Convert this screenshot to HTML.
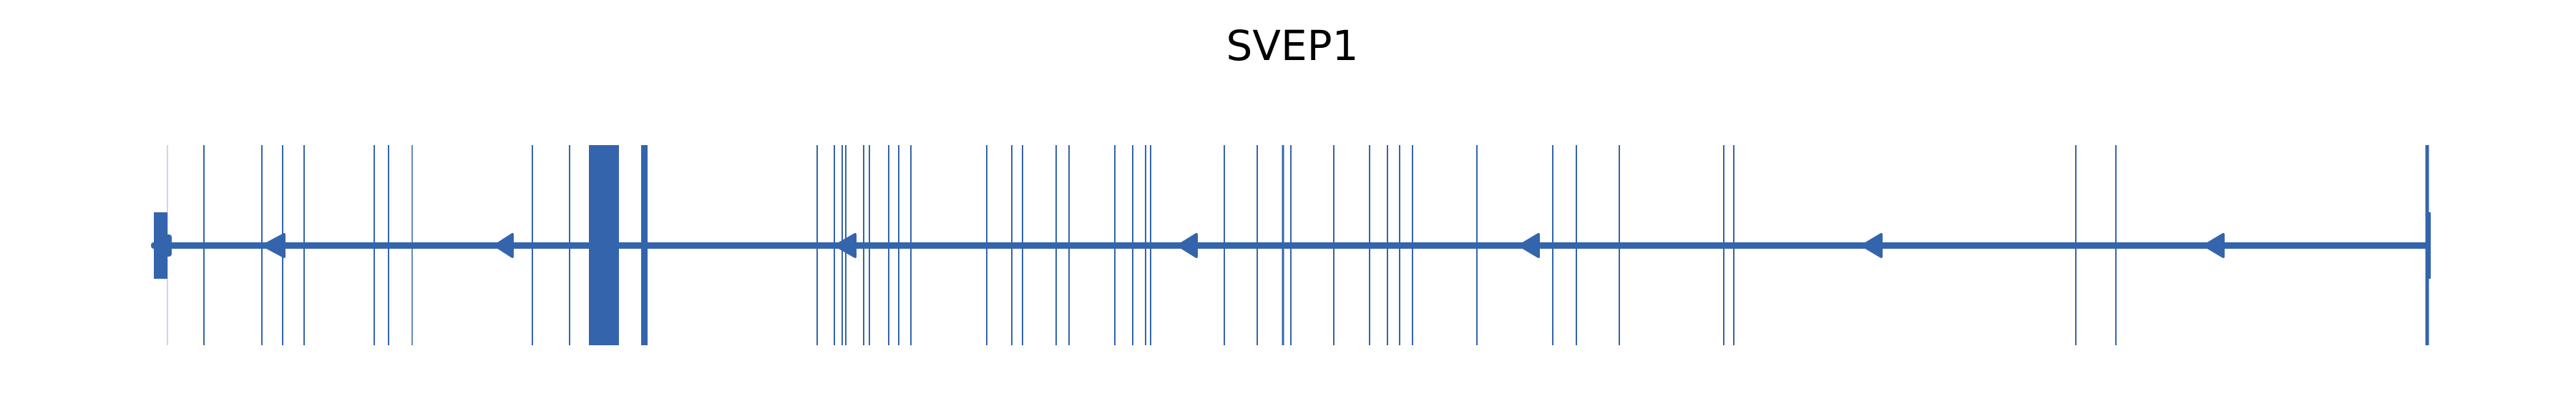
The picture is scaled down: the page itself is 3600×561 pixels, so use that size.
<!DOCTYPE html>
<html><head><style>html,body{margin:0;padding:0;background:#fff;width:3600px;height:561px;overflow:hidden}</style></head>
<body>
<svg width="3600" height="561" xmlns="http://www.w3.org/2000/svg">
<text x="1806" y="84" font-family="DejaVu Sans, Liberation Sans, sans-serif" font-size="58" text-anchor="middle" fill="#000">SVEP1</text>
<g stroke="#3465ac" fill="none">
<line x1="234" y1="203" x2="234" y2="483" stroke-width="1" opacity="0.5"/>
<g stroke-width="2">
<line x1="285" y1="203" x2="285" y2="483"/>
<line x1="366" y1="203" x2="366" y2="483"/>
<line x1="395" y1="203" x2="395" y2="483"/>
<line x1="425" y1="203" x2="425" y2="483"/>
<line x1="523" y1="203" x2="523" y2="483"/>
<line x1="543" y1="203" x2="543" y2="483"/>
<line x1="576" y1="203" x2="576" y2="483" stroke-width="1.5"/>
<line x1="744" y1="203" x2="744" y2="483"/>
<line x1="796" y1="203" x2="796" y2="483"/>
<line x1="1142" y1="203" x2="1142" y2="483"/>
<line x1="1166" y1="203" x2="1166" y2="483"/>
<line x1="1177" y1="203" x2="1177" y2="483"/>
<line x1="1182" y1="203" x2="1182" y2="483"/>
<line x1="1207" y1="203" x2="1207" y2="483"/>
<line x1="1215" y1="203" x2="1215" y2="483"/>
<line x1="1242" y1="203" x2="1242" y2="483"/>
<line x1="1256" y1="203" x2="1256" y2="483"/>
<line x1="1273" y1="203" x2="1273" y2="483"/>
<line x1="1379" y1="203" x2="1379" y2="483"/>
<line x1="1414" y1="203" x2="1414" y2="483"/>
<line x1="1429" y1="203" x2="1429" y2="483"/>
<line x1="1476" y1="203" x2="1476" y2="483"/>
<line x1="1494" y1="203" x2="1494" y2="483"/>
<line x1="1558" y1="203" x2="1558" y2="483"/>
<line x1="1583" y1="203" x2="1583" y2="483"/>
<line x1="1601" y1="203" x2="1601" y2="483"/>
<line x1="1608" y1="203" x2="1608" y2="483"/>
<line x1="1711" y1="203" x2="1711" y2="483"/>
<line x1="1757" y1="203" x2="1757" y2="483"/>
<line x1="1793" y1="203" x2="1793" y2="483" stroke-width="3"/>
<line x1="1804" y1="203" x2="1804" y2="483"/>
<line x1="1864" y1="203" x2="1864" y2="483"/>
<line x1="1914" y1="203" x2="1914" y2="483"/>
<line x1="1939" y1="203" x2="1939" y2="483"/>
<line x1="1956" y1="203" x2="1956" y2="483"/>
<line x1="1974" y1="203" x2="1974" y2="483"/>
<line x1="2064" y1="203" x2="2064" y2="483"/>
<line x1="2170" y1="203" x2="2170" y2="483"/>
<line x1="2203" y1="203" x2="2203" y2="483"/>
<line x1="2263" y1="203" x2="2263" y2="483"/>
<line x1="2409" y1="203" x2="2409" y2="483"/>
<line x1="2423" y1="203" x2="2423" y2="483"/>
<line x1="2901" y1="203" x2="2901" y2="483"/>
<line x1="2957" y1="203" x2="2957" y2="483"/>
</g>
<line x1="3392" y1="203" x2="3392" y2="483" stroke-width="5"/>
<line x1="3394" y1="297" x2="3394" y2="390" stroke-width="6"/>
</g>
<g fill="#3465ac">
<rect x="823" y="203" width="42" height="280"/>
<rect x="896" y="203" width="9" height="280"/>
<rect x="215" y="297" width="19" height="93"/>
<rect x="211" y="339" width="3185" height="9" rx="4"/>
<rect x="226" y="328" width="14" height="31" rx="4"/>
</g>
<g fill="#3465ac" stroke="#3465ac" stroke-width="4" stroke-linejoin="round">
<polygon points="368,343.5 397,328 397,359"/>
<polygon points="692,343.5 716,328 716,359"/>
<polygon points="1168,343.5 1195,328 1195,359"/>
<polygon points="1647,343.5 1672,328 1672,359"/>
<polygon points="2124,343.5 2150,328 2150,359"/>
<polygon points="2603,343.5 2629,328 2629,359"/>
<polygon points="3081,343.5 3107,328 3107,359"/>
</g>
</svg>
</body></html>
